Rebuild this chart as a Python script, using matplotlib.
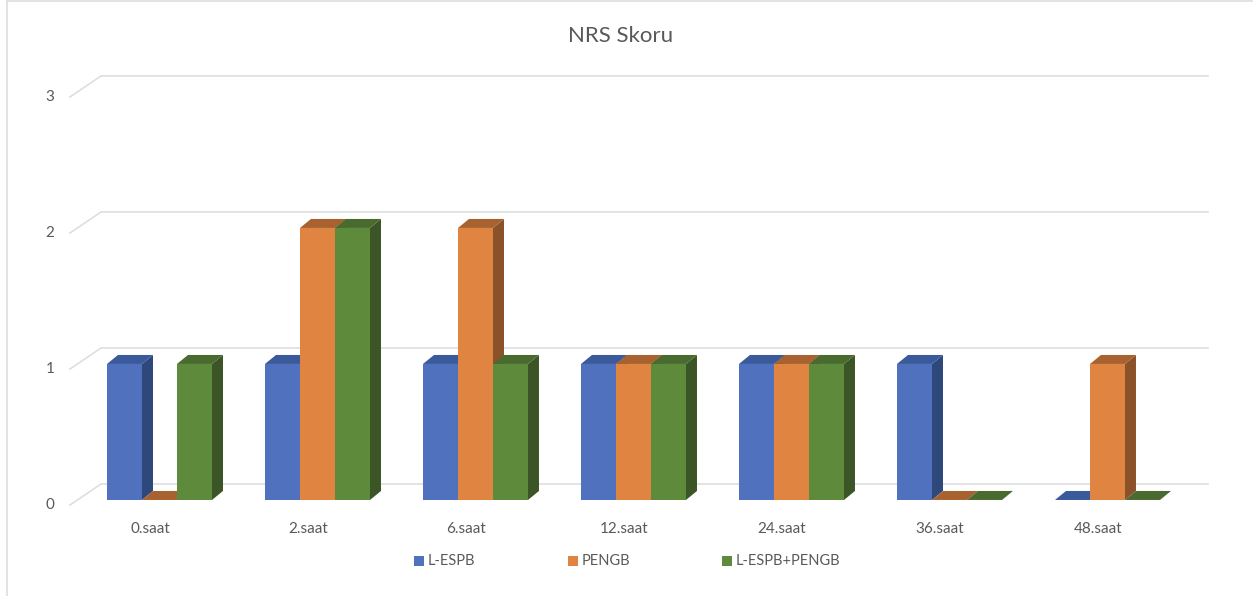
import matplotlib.pyplot as plt
from matplotlib.patches import Polygon, Rectangle
from matplotlib.lines import Line2D

categories = ["0.saat", "2.saat", "6.saat", "12.saat", "24.saat", "36.saat", "48.saat"]
series_names = ["L-ESPB", "PENGB", "L-ESPB+PENGB"]
l_espb = [1, 1, 1, 1, 1, 1, 0]
pengb = [0, 2, 2, 1, 1, 0, 1]
l_espb_pengb = [1, 2, 1, 1, 1, 0, 0]
y_ticks = [0, 1, 2, 3]

values = [l_espb, pengb, l_espb_pengb]
# front, side, top shades per series
colors = [
    ("#4f71be", "#2f487c", "#3b5a9b"),
    ("#df8441", "#8b5229", "#a8622f"),
    ("#5e8a3c", "#3c5526", "#4a6b2f"),
]

fig = plt.figure(figsize=(12.53, 5.96), dpi=100)
ax = fig.add_axes([0, 0, 1, 1])
ax.set_xlim(-1.0095, 6.921)
ax.set_ylim(-0.706, 3.676)
ax.axis("off")

font = "Lato"
grid_c = "#dedede"
text_c = "#595959"

# 3d depth offsets in data units
w = 0.2215
dx = 11 / 158
dy = 9 / 136
wall_dy = 16 / 136

# back wall gridlines + diagonal floor edge
for t in y_ticks:
    ax.plot([-0.5665, -0.3703, 6.636], [t - 0.037, t + wall_dy, t + wall_dy],
            color=grid_c, lw=1.2, zorder=1, solid_joinstyle="miter")
    ax.text(-0.693, t - 0.04, str(t), ha="center", va="center",
            fontsize=11, color=text_c, family=font)

for i, cat in enumerate(categories):
    for j, vals in enumerate(values):
        v = vals[i]
        front, side, top = colors[j]
        x0 = i + (j - 1) * w - w / 2
        ax.add_patch(Polygon([(x0 + w, 0), (x0 + w + dx, dy), (x0 + w + dx, v + dy), (x0 + w, v)],
                             closed=True, facecolor=side, edgecolor="none", zorder=3))
        ax.add_patch(Polygon([(x0, v), (x0 + dx, v + dy), (x0 + w + dx, v + dy), (x0 + w, v)],
                             closed=True, facecolor=top, edgecolor="none", zorder=3))
        if v > 0:
            ax.add_patch(Rectangle((x0, 0), w, v, facecolor=front, edgecolor="none", zorder=3))
    ax.text(i - 0.06, -0.213, cat, ha="center", va="center",
            fontsize=11, color=text_c, family=font)

ax.text(0.495, 0.94, "NRS Skoru", transform=fig.transFigure, ha="center", va="center",
        fontsize=16, color=text_c, family=font)

# legend
leg_x = [1.644, 2.619, 3.594]
for lx, name, c in zip(leg_x, series_names, colors):
    ax.scatter([lx], [-0.449], marker="s", s=48, color=c[0], linewidths=0, zorder=4)
    ax.text(lx + 0.052, -0.449, name, ha="left", va="center",
            fontsize=10.5, color=text_c, family=font)

# outer frame (left and top only visible)
fig.add_artist(Line2D([7 / 1253, 7 / 1253], [0, 1 - 1 / 596], color=grid_c, lw=1.2))
fig.add_artist(Line2D([7 / 1253, 1], [1 - 1 / 596, 1 - 1 / 596], color=grid_c, lw=1.2))

fig.savefig("out.png", dpi=100)
